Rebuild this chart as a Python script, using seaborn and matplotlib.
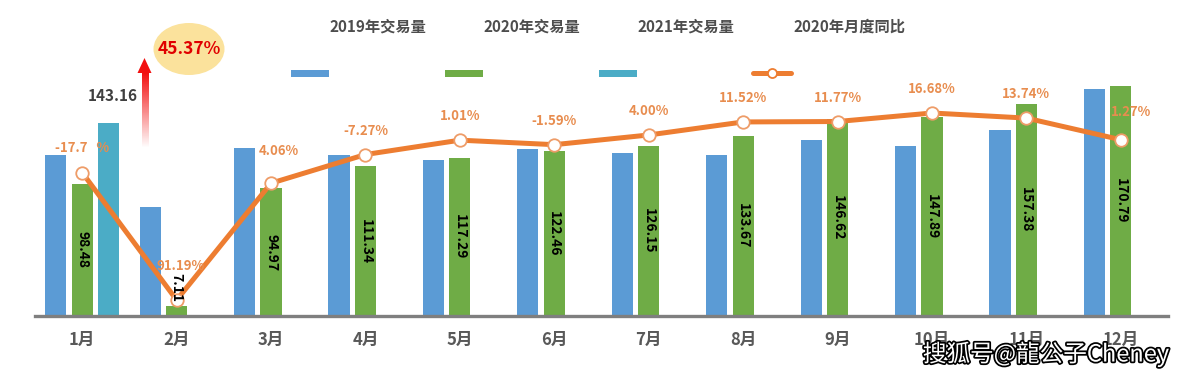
import numpy as np
import pandas as pd
import matplotlib
matplotlib.use("Agg")
import matplotlib.pyplot as plt
import matplotlib.patheffects as pe
from matplotlib.patches import Rectangle, Ellipse, Polygon
import seaborn as sns

# data
months = ['1月', '2月', '3月', '4月', '5月', '6月', '7月', '8月', '9月', '10月', '11月', '12月']
vol_2019 = [119.66, 80.70, 124.60, 120.07, 116.12, 124.44, 121.30, 119.86, 131.18, 126.75, 138.37, 168.65]
vol_2020 = [98.48, 7.11, 94.97, 111.34, 117.29, 122.46, 126.15, 133.67, 146.62, 147.89, 157.38, 170.79]
vol_2021 = [143.16]
yoy_2020 = [-17.7, -91.19, -23.8, -7.27, 1.01, -1.59, 4.00, 11.52, 11.77, 16.68, 13.74, 1.27]
yoy_labels = ['-17.7   %', '91.19%', '4.06%', '-7.27%', '1.01%', '-1.59%', '4.00%',
              '11.52%', '11.77%', '16.68%', '13.74%', '1.27%']
series_names = ['2019年交易量', '2020年交易量', '2021年交易量', '2020年月度同比']
jan_growth = '45.37%'

blue, green, cyan, orange = '#5B9BD5', '#6FAC46', '#4BACC6', '#ED7D31'

rows = [(m, series_names[0], v) for m, v in zip(months, vol_2019)]
rows += [(m, series_names[1], v) for m, v in zip(months, vol_2020)]
rows += [(m, series_names[2], v) for m, v in zip(months, vol_2021)]
df = pd.DataFrame(rows, columns=['month', 'series', 'value'])

sns.set_style('white')
plt.rcParams['font.family'] = ['Noto Sans CJK SC', 'DejaVu Sans']

W, H = 1202, 381
fig = plt.figure(figsize=(W / 100, H / 100), dpi=100)
ax = fig.add_axes([35 / W, 65 / H, 1133 / W, 316 / H])

sns.barplot(data=df, x='month', y='value', hue='series', order=months,
            hue_order=series_names[:3], palette=[blue, green, cyan],
            width=0.84, gap=0.2, saturation=1, linewidth=0, errorbar=None,
            legend=False, ax=ax)

ax.set_ylim(0, 235)
ax.set_yticks([])
ax.set_xlabel('')
ax.set_ylabel('')
sns.despine(ax=ax, left=True)
ax.spines['bottom'].set_color('#7F7F7F')
ax.spines['bottom'].set_linewidth(2.4)
ax.tick_params(axis='x', length=0, pad=11, labelsize=12, labelcolor='#595959')
for t in ax.get_xticklabels():
    t.set_fontweight('bold')

# yoy line on a second axis
ax2 = ax.twinx()
sns.lineplot(x=np.arange(len(months)), y=yoy_2020, ax=ax2, color=orange, lw=3.6,
             marker='o', markersize=9, markerfacecolor='white',
             markeredgecolor='#EE9C68', markeredgewidth=1.3)
ax2.set_ylim(-100.4, 81.85)
ax2.set_axis_off()

offsets = {0: (0, 25), 1: (4, 34), 2: (8, 32), 11: (10, 28)}
for i, lbl in enumerate(yoy_labels):
    dx, dy = offsets.get(i, (0, 24))
    ax2.annotate(lbl, (i, yoy_2020[i]), xytext=(dx * 0.72, dy * 0.72),
                 textcoords='offset points', ha='center', va='center',
                 fontsize=9.5, fontweight='bold', color='#E88D4F')

# value labels inside the 2020 bars (drawn above the line)
for i, v in enumerate(vol_2020):
    y = v / 2 if v > 20 else v + 14
    ax2.text(i, y, f'{v:.2f}', rotation=-90, ha='center', va='center',
             fontsize=10, fontweight='bold', color='black', zorder=5,
             transform=ax.transData)

ax.set_xlim(-0.5, len(months) - 0.5)

# overlay in pixel coordinates for legend and annotations
ov = fig.add_axes([0, 0, 1, 1])
ov.set_axis_off()

# legend: names on top, keys below and to the left
name_x = [378, 532, 686, 849]
key_x = [291, 445, 599, 753]
for name, nx in zip(series_names, name_x):
    ov.text(nx, 27, name, ha='center', va='center', fontsize=11,
            fontweight='bold', color='#4D4D4D')
for kx, c in zip(key_x[:3], [blue, green, cyan]):
    ov.add_patch(Rectangle((kx, 69.5), 38, 7.5, color=c, lw=0))
ov.plot([key_x[3], key_x[3] + 38], [73, 73], color=orange, lw=3.6)
ov.plot([key_x[3] + 19], [73], marker='o', markersize=6.5, markerfacecolor='white',
        markeredgecolor=orange, markeredgewidth=1.3)

# growth arrow with gradient shaft
grad = np.zeros((100, 1, 4))
grad[..., 0] = 0.95
grad[..., 1] = 0.05
grad[..., 2] = 0.05
grad[:, 0, 3] = np.linspace(1, 0, 100)
ov.imshow(grad, extent=[141.5, 148.5, 148, 72], aspect='auto', interpolation='bilinear')
ov.add_patch(Polygon([(137.5, 73), (151.5, 73), (144.5, 58)], color='#F21010', lw=0))

ov.add_patch(Ellipse((189, 49), 71, 52, color='#FBE29C', lw=0))
ov.text(189, 49, jan_growth, ha='center', va='center', fontsize=12.5,
        fontweight='bold', color='#E00000')
ov.text(113, 96, f'{vol_2021[0]:.2f}', ha='center', va='center', fontsize=11,
        fontweight='bold', color='#404040')

ov.text(1046, 354, '搜狐号@龍公子Cheney', ha='center', va='center', fontsize=17,
        color='white', path_effects=[pe.withStroke(linewidth=2.5, foreground='black')])

ov.set_xlim(0, W)
ov.set_ylim(H, 0)

fig.savefig('out.png', dpi=100)
